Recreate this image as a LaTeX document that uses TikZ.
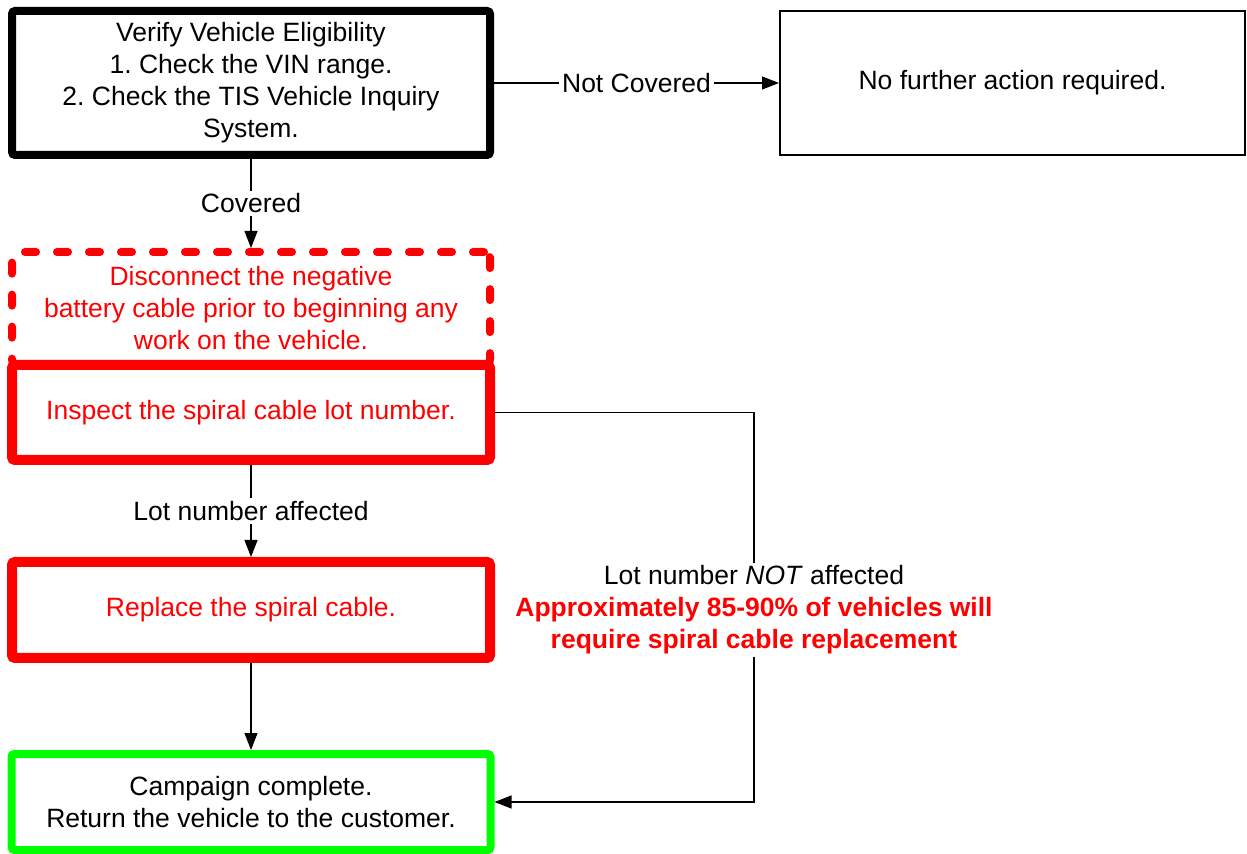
\documentclass[tikz,border=0pt]{standalone}
\usepackage{fontspec}
\setmainfont{Liberation Sans}
\usetikzlibrary{arrows.meta}
\definecolor{warnred}{RGB}{255,0,0}
\definecolor{okgreen}{RGB}{0,255,0}
\frenchspacing
\tikzset{
    checkbox/.style={
           rectangle,
           rounded corners=1.5pt,
           draw=black, line width=4pt,
           minimum width=239pt,
           minimum height=72pt,
           align=center},
    endbox/.style={
           rectangle,
           draw=black, line width=1pt,
           minimum width=232.5pt,
           minimum height=72pt,
           align=center},
    warnbox/.style={
           rectangle,
           rounded corners=3pt,
           draw=warnred, line width=4pt,
           dash pattern=on 5.5pt off 10.5pt,
           line cap=round,
           text=warnred,
           minimum width=239pt,
           minimum height=56.5pt,
           align=center},
    stepbox/.style={
           rectangle,
           rounded corners=1.5pt,
           draw=warnred, line width=5pt,
           text=warnred,
           minimum width=239pt,
           align=center},
    donebox/.style={
           rectangle,
           rounded corners=1.5pt,
           draw=okgreen, line width=4pt,
           minimum width=239.5pt,
           minimum height=48pt,
           align=center},
    % Define arrow style
    flow/.style={
           -{Triangle[length=8.5pt,width=6.5pt]},
           line width=0.6pt},
    lbl/.style={
           fill=white,
           inner sep=1.5pt,
           align=center}
}

\begin{document}
\begin{tikzpicture}[x=0.5pt,y=-0.5pt,font=\fontsize{13.25pt}{16pt}\selectfont]
	\useasboundingbox (0,0) rectangle (1247,854);

	\node[checkbox] (verify) at (251,83) {Verify Vehicle Eligibility\\1. Check the VIN range.\\2. Check the TIS Vehicle Inquiry\\System.};
	\node[endbox] (noact) at (1012.5,83) {No further action required.};
	\node[warnbox] (warn) at (251,308.5) {Disconnect the negative\\battery cable prior to beginning any\\work on the vehicle.};
	\node[stepbox, minimum height=47.5pt] (inspect) at (251,412.5) {Inspect the spiral cable lot number.};
	\node[stepbox, minimum height=48pt] (replace) at (251,610) {Replace the spiral cable.};
	\node[donebox] (done) at (251,802) {Campaign complete.\\Return the vehicle to the customer.};
	\coordinate (bend) at (754,412.5);

	\draw[flow] (verify.east) -- node[lbl] {Not Covered} (noact.west);
	\draw[flow] (verify) -- node[lbl] {Covered} (warn);
	\draw[flow] (inspect) -- node[lbl] {Lot number affected} (replace);
	\draw[flow] (replace) -- (done);
	\draw[flow] (inspect.east) -- (bend) |- node[lbl, pos=0.2535] {Lot number \textit{NOT} affected\\
		\textcolor{warnred}{\bfseries Approximately 85-90\% of vehicles will}\\
		\textcolor{warnred}{\bfseries require spiral cable replacement}} (done.east);
\end{tikzpicture}
\end{document}
